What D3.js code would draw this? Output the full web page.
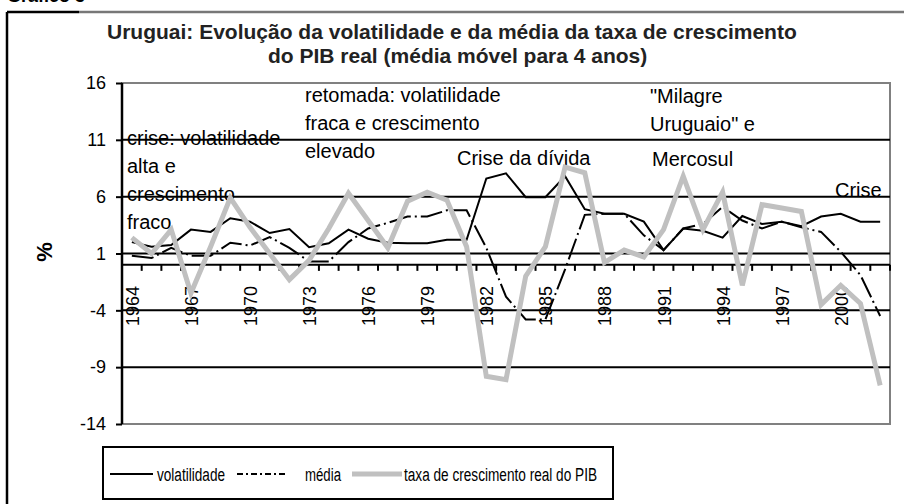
<!DOCTYPE html>
<html lang="pt">
<head>
    <meta charset="UTF-8">
    <script src="https://d3js.org/d3.v7.min.js"></script>
    <title>Uruguai - volatilidade</title>
    <style>
        body { margin: 0; background: #fff; }
        text { font-family: Arial, "Liberation Sans", sans-serif; }
    </style>
</head>
<body>
    <script>
        // data
        const years = [1964, 1965, 1966, 1967, 1968, 1969, 1970, 1971, 1972, 1973,
                       1974, 1975, 1976, 1977, 1978, 1979, 1980, 1981, 1982, 1983,
                       1984, 1985, 1986, 1987, 1988, 1989, 1990, 1991, 1992, 1993,
                       1994, 1995, 1996, 1997, 1998, 1999, 2000, 2001, 2002];

        const volatilidade = [2.0, 1.6, 1.75, 3.1, 2.9, 4.1, 3.8, 2.8, 3.15, 1.55,
                              1.9, 3.1, 2.3, 1.95, 1.9, 1.9, 2.2, 2.2, 7.6, 8.05,
                              5.95, 5.95, 7.8, 4.9, 4.5, 4.5, 3.8, 1.3, 3.2, 3.0,
                              2.4, 4.3, 3.6, 3.8, 3.4, 4.25, 4.5, 3.8, 3.8];

        const media = [0.8, 0.6, 1.5, 0.8, 0.8, 1.95, 1.7, 2.45, 1.5, 0.3,
                       0.3, 2.0, 3.2, 3.7, 4.25, 4.25, 4.8, 4.8, 1.5, -2.8,
                       -4.8, -4.8, -0.4, 4.4, 4.5, 4.5, 2.6, 1.3, 3.2, 3.6,
                       5.1, 3.9, 3.2, 3.8, 3.3, 2.9, 1.15, -0.9, -4.5];

        const crescimento = [2.4, 1.0, 3.1, -2.5, 1.6, 5.9, 3.3, 1.0, -1.3, 0.4,
                             3.2, 6.3, 3.9, 1.5, 5.6, 6.4, 5.7, 1.6, -9.8, -10.1,
                             -1.0, 1.6, 8.6, 8.1, 0.2, 1.3, 0.7, 3.1, 7.8, 3.1,
                             6.4, -1.8, 5.3, 5.0, 4.7, -3.5, -1.8, -3.4, -10.6];

        const yTicks = [-14, -9, -4, 1, 6, 11, 16];
        const yearLabels = [1964, 1967, 1970, 1973, 1976, 1979, 1982, 1985, 1988, 1991, 1994, 1997, 2000];

        const annotations = [
            {lines: ["crise: volatilidade", "alta e", "crescimento", "fraco"], x: 127, y: 145},
            {lines: ["retomada: volatilidade", "fraca e crescimento", "elevado"], x: 305, y: 102},
            {lines: ["Crise da dívida"], x: 457, y: 165},
            {lines: ["\"Milagre", "Uruguaio\" e"], x: 650, y: 103},
            {lines: ["Mercosul"], x: 652, y: 166},
            {lines: ["Crise"], x: 835, y: 197}
        ];

        const w = 904, h = 504;
        const pLeft = 122, pRight = 890, pTop = 83, pBottom = 424;

        const svg = d3.select("body").append("svg")
            .attr("width", w)
            .attr("height", h);

        const x = d3.scaleBand().domain(years).range([pLeft, pRight]).paddingInner(0);
        const y = d3.scaleLinear().domain([-14, 16]).range([pBottom, pTop]);
        const cx = d => x(d) + x.bandwidth() / 2;

        // outer frame (cut by the picture edge)
        svg.append("text")
            .attr("x", 7).attr("y", 2)
            .attr("font-size", 18).attr("font-weight", "bold")
            .text("Gráfico 3");
        svg.append("line").attr("x1", 7).attr("x2", 7).attr("y1", 12).attr("y2", h)
            .attr("stroke", "#000").attr("stroke-width", 2.5);
        svg.append("line").attr("x1", 7).attr("x2", 79).attr("y1", 12).attr("y2", 12)
            .attr("stroke", "#000").attr("stroke-width", 2.5);
        svg.append("line").attr("x1", 79).attr("x2", w).attr("y1", 12).attr("y2", 12)
            .attr("stroke", "#777").attr("stroke-width", 2.5);

        // title
        const title = svg.append("g")
            .attr("font-size", 21)
            .attr("font-weight", "bold")
            .attr("fill", "#222");
        title.append("text").attr("x", 107).attr("y", 39)
            .text("Uruguai: Evolução da volatilidade e da média da taxa de crescimento");
        title.append("text").attr("x", 268).attr("y", 63)
            .text("do PIB real (média móvel para 4 anos)");

        // plot area border
        svg.append("rect")
            .attr("x", pLeft).attr("y", pTop)
            .attr("width", pRight - pLeft).attr("height", pBottom - pTop)
            .attr("fill", "none")
            .attr("stroke", "#808080")
            .attr("stroke-width", 2);

        // gridlines
        svg.append("g").selectAll("line")
            .data(yTicks.filter(d => d !== 16 && d !== -14))
            .join("line")
            .attr("x1", pLeft).attr("x2", pRight)
            .attr("y1", d => y(d)).attr("y2", d => y(d))
            .attr("stroke", "#000")
            .attr("stroke-width", 2);

        // y axis
        const yAxis = svg.append("g")
            .attr("transform", `translate(${pLeft},0)`)
            .call(d3.axisLeft(y).tickValues(yTicks).tickSize(6).tickPadding(10)
                .tickFormat(d => String(d)));
        yAxis.select(".domain").attr("stroke", "#000").attr("stroke-width", 2.5)
            .attr("d", `M0,${pTop}V${pBottom}`);
        yAxis.selectAll(".tick line").attr("stroke", "#000").attr("stroke-width", 2);
        yAxis.selectAll(".tick text")
            .attr("font-size", 18)
            .attr("font-family", "Arial, 'Liberation Sans', sans-serif")
            .attr("fill", "#000");

        svg.append("text")
            .attr("transform", "translate(52,252) rotate(-90)")
            .attr("text-anchor", "middle")
            .attr("font-size", 22)
            .attr("font-weight", "bold")
            .text("%");

        // x axis at zero
        const y0 = y(0);
        svg.append("line")
            .attr("x1", pLeft).attr("x2", pRight)
            .attr("y1", y0).attr("y2", y0)
            .attr("stroke", "#000").attr("stroke-width", 2);
        svg.append("g").selectAll("line")
            .data(years)
            .join("line")
            .attr("x1", d => x(d) + x.bandwidth()).attr("x2", d => x(d) + x.bandwidth())
            .attr("y1", y0).attr("y2", y0 + 6)
            .attr("stroke", "#000").attr("stroke-width", 2);
        svg.append("g").selectAll("text")
            .data(yearLabels)
            .join("text")
            .attr("transform", d => `translate(${cx(d) + 7},${y0 + 21}) rotate(-90)`)
            .attr("text-anchor", "end")
            .attr("font-size", 18)
            .text(d => d);

        // annotations
        const notes = svg.append("g").attr("font-size", 20).attr("fill", "#000");
        annotations.forEach(a => {
            a.lines.forEach((l, i) => {
                notes.append("text")
                    .attr("x", a.x)
                    .attr("y", a.y + i * 28)
                    .text(l);
            });
        });

        // series
        const line = vals => d3.line()
            .x((d, i) => cx(years[i]))
            .y(d => y(d))(vals);

        svg.append("path")
            .attr("d", line(volatilidade))
            .attr("fill", "none")
            .attr("stroke", "#000")
            .attr("stroke-width", 2);

        svg.append("path")
            .attr("d", line(media))
            .attr("fill", "none")
            .attr("stroke", "#000")
            .attr("stroke-width", 2)
            .attr("stroke-dasharray", "22,4,2,4");

        svg.append("path")
            .attr("d", line(crescimento))
            .attr("fill", "none")
            .attr("stroke", "#c0c0c0")
            .attr("stroke-width", 5)
            .attr("stroke-linejoin", "miter");

        // legend
        const legend = svg.append("g");
        legend.append("rect")
            .attr("x", 103).attr("y", 447)
            .attr("width", 510).attr("height", 52)
            .attr("fill", "#fff")
            .attr("stroke", "#000")
            .attr("stroke-width", 2);

        const legendItems = [
            {name: "volatilidade", x1: 110, x2: 153, tx: 157, tl: 68, stroke: "#000", sw: 2, dash: null},
            {name: "média", x1: 237, x2: 288, tx: 305, tl: 36, stroke: "#000", sw: 2, dash: "6,3,2,3"},
            {name: "taxa de crescimento real do PIB", x1: 352, x2: 402, tx: 404, tl: 193, stroke: "#c0c0c0", sw: 5, dash: null}
        ];
        legendItems.forEach(d => {
            legend.append("line")
                .attr("x1", d.x1).attr("x2", d.x2)
                .attr("y1", 474).attr("y2", 474)
                .attr("stroke", d.stroke)
                .attr("stroke-width", d.sw)
                .attr("stroke-dasharray", d.dash);
            legend.append("text")
                .attr("x", d.tx).attr("y", 481)
                .attr("font-size", 18)
                .attr("textLength", d.tl)
                .attr("lengthAdjust", "spacingAndGlyphs")
                .text(d.name);
        });
    </script>
</body>
</html>
